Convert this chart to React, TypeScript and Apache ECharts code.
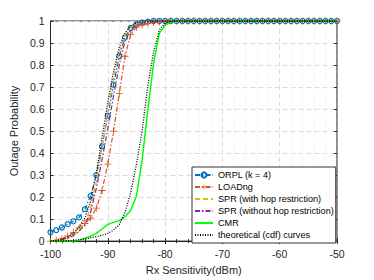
import React, { useEffect, useRef } from "react";
import * as echarts from "echarts";

const xValues = [
  -100, -99, -98, -97, -96, -95, -94, -93, -92, -91,
  -90, -89, -88, -87, -86, -85, -84, -83, -82, -81,
  -80, -79, -78, -77, -76, -75, -74, -73, -72, -71,
  -70, -69, -68, -67, -66, -65, -64, -63, -62, -61,
  -60, -59, -58, -57, -56, -55, -54, -53, -52, -51,
  -50,
];

const orpl = [
  0.04, 0.05, 0.062, 0.077, 0.09, 0.108, 0.145, 0.205, 0.3, 0.43,
  0.57, 0.71, 0.84, 0.925, 0.968, 0.985, 0.993, 0.997, 1, 1,
  1, 1, 1, 1, 1, 1, 1, 1, 1, 1,
  1, 1, 1, 1, 1, 1, 1, 1, 1, 1,
  1, 1, 1, 1, 1, 1, 1, 1, 1, 1,
  1,
];

const loadng = [
  0, 0.004, 0.011, 0.023, 0.038, 0.06, 0.08, 0.105, 0.15, 0.23,
  0.35, 0.5, 0.67, 0.84, 0.94, 0.972, 0.982, 0.988, 0.993, 0.996,
  0.998, 1, 1, 1, 1, 1, 1, 1, 1, 1,
  1, 1, 1, 1, 1, 1, 1, 1, 1, 1,
  1, 1, 1, 1, 1, 1, 1, 1, 1, 1,
  1,
];

const sprHop = [
  0, 0.002, 0.006, 0.014, 0.028, 0.05, 0.085, 0.15, 0.27, 0.42,
  0.59, 0.74, 0.86, 0.935, 0.972, 0.988, 0.995, 0.998, 1, 1,
  1, 1, 1, 1, 1, 1, 1, 1, 1, 1,
  1, 1, 1, 1, 1, 1, 1, 1, 1, 1,
  1, 1, 1, 1, 1, 1, 1, 1, 1, 1,
  1,
];

const sprNoHop = [
  0, 0.002, 0.006, 0.013, 0.025, 0.045, 0.075, 0.13, 0.24, 0.37,
  0.51, 0.66, 0.8, 0.91, 0.958, 0.98, 0.99, 0.996, 0.999, 1,
  1, 1, 1, 1, 1, 1, 1, 1, 1, 1,
  1, 1, 1, 1, 1, 1, 1, 1, 1, 1,
  1, 1, 1, 1, 1, 1, 1, 1, 1, 1,
  1,
];

const cmr = [
  0, 0, 0, 0, 0, 0.004, 0.013, 0.022, 0.035, 0.055,
  0.076, 0.085, 0.093, 0.11, 0.14, 0.205, 0.37, 0.6, 0.81, 0.945,
  0.98, 0.995, 1, 1, 1, 1, 1, 1, 1, 1,
  1, 1, 1, 1, 1, 1, 1, 1, 1, 1,
  1, 1, 1, 1, 1, 1, 1, 1, 1, 1,
  1,
];

const theoryLeft = [
  0.001, 0.003, 0.008, 0.018, 0.035, 0.065, 0.105, 0.18, 0.31, 0.47,
  0.63, 0.77, 0.88, 0.945, 0.978, 0.992, 0.998, 1, 1, 1,
  1, 1, 1, 1, 1, 1, 1, 1, 1, 1,
  1, 1, 1, 1, 1, 1, 1, 1, 1, 1,
  1, 1, 1, 1, 1, 1, 1, 1, 1, 1,
  1,
];

const theoryRight = [
  0, 0, 0.001, 0.002, 0.003, 0.006, 0.01, 0.015, 0.02, 0.027,
  0.035, 0.05, 0.075, 0.13, 0.22, 0.35, 0.5, 0.71, 0.86, 0.96,
  0.99, 0.998, 1, 1, 1, 1, 1, 1, 1, 1,
  1, 1, 1, 1, 1, 1, 1, 1, 1, 1,
  1, 1, 1, 1, 1, 1, 1, 1, 1, 1,
  1,
];

const seriesNames = [
  "ORPL (k = 4)",
  "LOADng",
  "SPR (with hop restriction)",
  "SPR (without hop restriction)",
  "CMR",
  "theoretical (cdf) curves",
];

const pairs = (arr: number[]) => xValues.map((x, i) => [x, arr[i]]);

const PLUS =
  "path://M-0.6,-5H0.6V-0.6H5V0.6H0.6V5H-0.6V0.6H-5V-0.6H-0.6Z";

const FONT = "Liberation Sans";
const AX = "#262626";

export default function App() {
  const ref = useRef<HTMLDivElement>(null);
  useEffect(() => {
    if (!ref.current) return;
    const chart = echarts.init(ref.current, undefined, { renderer: "svg" });
    const axisCommon = {
      type: "value" as const,
      axisLine: { show: true, lineStyle: { color: AX, width: 1 } },
      axisTick: { show: true, inside: true, length: 3, lineStyle: { color: AX } },
      minorTick: { show: true, splitNumber: 5, length: 2, lineStyle: { color: AX } },
    };
    const plainLine = (name: string, arr: number[], color: string, lineStyle: object, z: number) => ({
      name,
      type: "line",
      data: pairs(arr),
      showSymbol: false,
      symbol: "none",
      color,
      itemStyle: { color, opacity: 0 },
      lineStyle: { color, ...lineStyle },
      z,
    });
    chart.setOption({
      animation: false,
      backgroundColor: "#ffffff",
      textStyle: { fontFamily: FONT },
      grid: {
        left: 48,
        right: 37,
        top: 21,
        bottom: 33,
        show: true,
        borderColor: AX,
        borderWidth: 1,
        backgroundColor: "#ffffff",
      },
      legend: {
        show: true,
        data: seriesNames,
        orient: "vertical",
        left: 192,
        top: 167,
        padding: [3, 2, 3, 2],
        itemGap: 2,
        itemWidth: 18,
        itemHeight: 6.5,
        backgroundColor: "#ffffff",
        borderColor: "#333333",
        borderWidth: 1,
        borderRadius: 0,
        textStyle: { fontSize: 9.1, lineHeight: 10, height: 10, color: "#000000", fontFamily: FONT },
      },
      xAxis: [
        {
          ...axisCommon,
          min: -100,
          max: -50,
          interval: 10,
          position: "bottom",
          name: "Rx Sensitivity(dBm)",
          nameLocation: "middle",
          nameGap: 22,
          nameTextStyle: { fontSize: 11, color: AX, fontFamily: FONT },
          axisLabel: { fontSize: 10.5, color: AX, fontFamily: FONT, margin: 7 },
          splitLine: { show: true, lineStyle: { color: "#dcdcdc", type: [5, 3], width: 1 } },
          minorSplitLine: { show: true, lineStyle: { color: "#e8e8e8", type: [1, 2], width: 1 } },
        },
        {
          ...axisCommon,
          min: -100,
          max: -50,
          interval: 10,
          position: "top",
          axisLabel: { show: false },
          splitLine: { show: false },
        },
      ],
      yAxis: [
        {
          ...axisCommon,
          min: 0,
          max: 1,
          interval: 0.1,
          position: "left",
          name: "Outage Probability",
          nameLocation: "middle",
          nameGap: 25,
          nameTextStyle: { fontSize: 11, color: AX, fontFamily: FONT },
          minorTick: { show: false },
          axisLabel: {
            fontSize: 10.5,
            color: AX,
            fontFamily: FONT,
            margin: 6,
            formatter: (v: number) => String(Math.round(v * 10) / 10),
          },
          splitLine: { show: true, lineStyle: { color: "#dcdcdc", type: [5, 3], width: 1 } },
        },
        {
          ...axisCommon,
          min: 0,
          max: 1,
          interval: 0.1,
          position: "right",
          minorTick: { show: false },
          axisLine: { show: true, lineStyle: { color: "#8c8c8c", width: 1.5 } },
          axisLabel: { show: false },
          splitLine: { show: false },
        },
      ],
      series: [
        {
          name: seriesNames[0],
          type: "line",
          data: pairs(orpl),
          symbol: "circle",
          symbolSize: 5,
          color: "#0072BD",
          itemStyle: { color: "rgba(255,255,255,0)", borderColor: "#0072BD", borderWidth: 1.2 },
          lineStyle: { color: "#0072BD", width: 1.2, type: [5, 2, 1.5, 2] },
          z: 2,
        },
        {
          name: seriesNames[1],
          type: "line",
          data: pairs(loadng),
          symbol: PLUS,
          symbolSize: 7,
          color: "#D95319",
          itemStyle: { color: "#D95319" },
          lineStyle: { color: "#D95319", width: 1.2, type: [5, 2, 1.5, 2] },
          z: 3,
        },
        plainLine(seriesNames[2], sprHop, "#EDB120", { width: 1.2, type: [5, 3] }, 4),
        plainLine(seriesNames[3], sprNoHop, "#7E2F8E", { width: 1.2, type: [5, 2, 1.5, 2] }, 5),
        plainLine(seriesNames[4], cmr, "#00FF00", { width: 1.5 }, 6),
        plainLine(seriesNames[5], theoryLeft, "#000000", { width: 1.3, type: [1, 1.5] }, 7),
        plainLine(seriesNames[5], theoryRight, "#000000", { width: 1.3, type: [1, 1.5] }, 7),
      ],
    });
    return () => chart.dispose();
  }, []);
  return (
    <div
      ref={ref}
      style={{ position: "fixed", left: 0, top: 0, width: 374, height: 280 }}
    />
  );
}
